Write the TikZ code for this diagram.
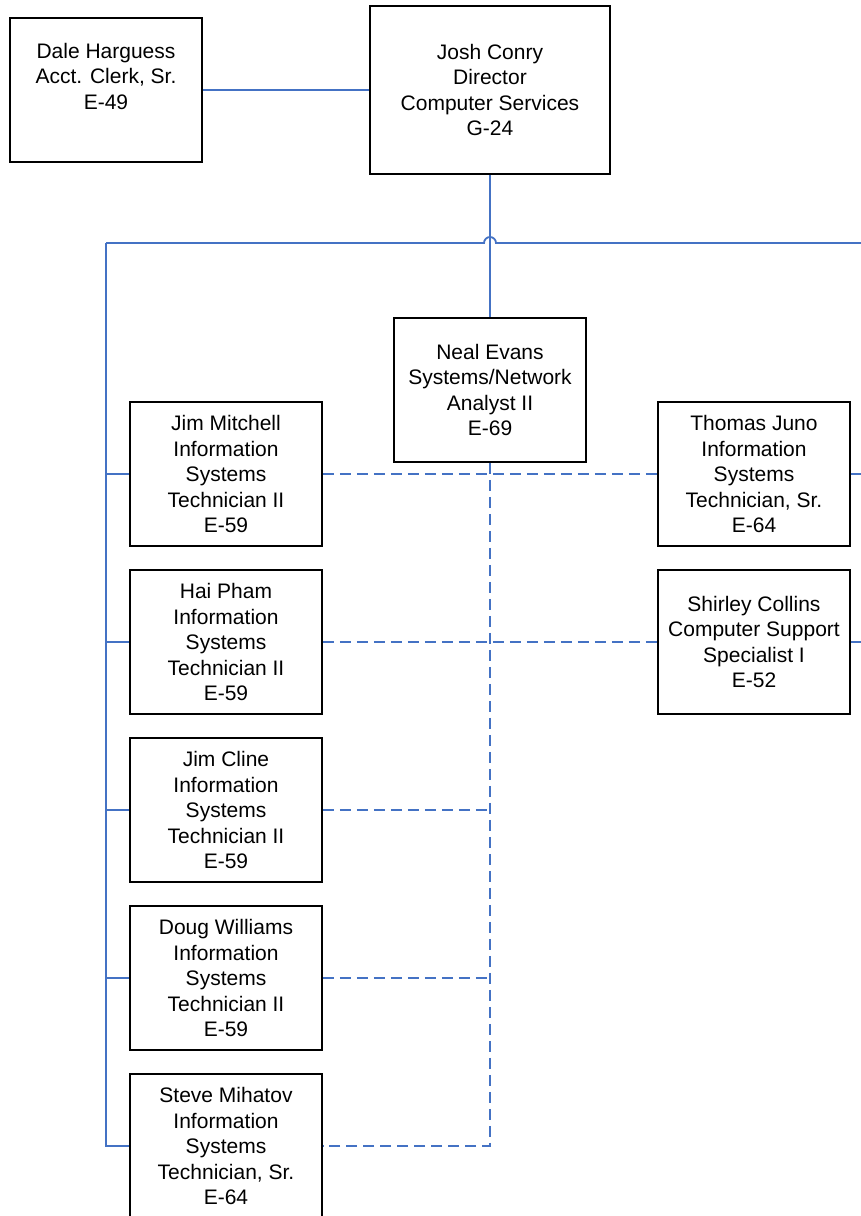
\documentclass[tikz,border=0pt]{standalone}
\usepackage{fontspec}
\setmainfont{Liberation Sans}
\begin{document}
\begin{tikzpicture}[x=1pt,y=-1pt,
  box/.style={draw=black,line width=1.8pt,minimum width=192pt,minimum height=144pt,inner sep=0pt,align=center,font=\fontsize{21}{25.5}\selectfont},
  link/.style={draw={rgb,255:red,68;green,114;blue,196},line width=1.8pt},
  dlink/.style={link,dash pattern=on 11pt off 6pt}]
\clip (0,0) rectangle (861,1216);
\fill[white] (0,0) rectangle (861,1216);
\node[box] (dale) at (106,90) {Dale Harguess\\Acct. Clerk, Sr.\\E-49\\[2.5pt]};
\node[box,minimum width=240pt,minimum height=168pt] (josh) at (490,90) {Josh Conry\\Director\\Computer Services\\G-24};
\node[box] (neal) at (490,390) {Neal Evans\\Systems/Network\\Analyst II\\E-69};
\node[box] (jm) at (226,474) {Jim Mitchell\\Information\\Systems\\Technician II\\E-59};
\node[box] (hp) at (226,642) {Hai Pham\\Information\\Systems\\Technician II\\E-59};
\node[box] (jc) at (226,810) {Jim Cline\\Information\\Systems\\Technician II\\E-59};
\node[box] (dw) at (226,978) {Doug Williams\\Information\\Systems\\Technician II\\E-59};
\node[box] (sm) at (226,1146) {Steve Mihatov\\Information\\Systems\\Technician, Sr.\\E-64};
\node[box] (tj) at (754,474) {Thomas Juno\\Information\\Systems\\Technician, Sr.\\E-64};
\node[box] (sc) at (754,642) {Shirley Collins\\Computer Support\\Specialist I\\E-52};
\coordinate (busL) at (106,243);
\coordinate (busR) at (861,243);
\draw[link] (dale.east) -- (josh.west);
\draw[link] (josh.south) -- (neal.north);
\draw[link] (busL) -- (484,243) arc[start angle=180,end angle=360,radius=6] -- (busR);
\draw[link] (busL) |- (sm.west);
\foreach \n in {jm,hp,jc,dw} \draw[link] (busL |- \n.west) -- (\n.west);
\foreach \n in {tj,sc} \draw[link] (\n.east) -- (\n.east -| busR);
\draw[dlink] (neal.south) |- (sm.east);
\draw[dlink] (jm.east) -- (tj.west);
\draw[dlink] (hp.east) -- (sc.west);
\foreach \n in {jc,dw} \draw[dlink] (\n.east) -- (\n.east -| neal.south);
\end{tikzpicture}
\end{document}
